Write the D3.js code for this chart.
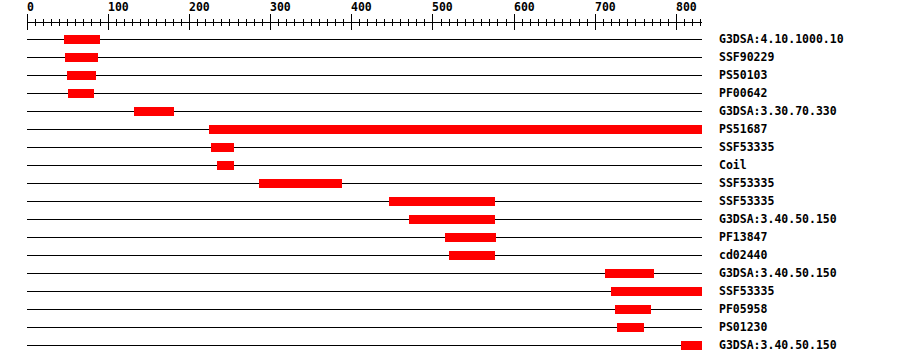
<!DOCTYPE html>
<html>
<head>
<meta charset="utf-8">
<script src="https://cdn.jsdelivr.net/npm/d3@7"></script>
<style>
  body { margin: 0; background: #fff; }
  text { font-family: "DejaVu Sans Mono", "Liberation Mono", monospace; font-weight: bold; }
</style>
</head>
<body>
<svg id="chart" width="900" height="364"></svg>
<script>
// protein length and the features found on it
const seqLength = 832;
const labels = ["G3DSA:4.10.1000.10", "SSF90229", "PS50103", "PF00642", "G3DSA:3.30.70.330",
    "PS51687", "SSF53335", "Coil", "SSF53335", "SSF53335", "G3DSA:3.40.50.150", "PF13847",
    "cd02440", "G3DSA:3.40.50.150", "SSF53335", "PF05958", "PS01230", "G3DSA:3.40.50.150"];
const starts = [46, 48, 50, 51, 133, 225, 227, 235, 286, 447, 471, 515, 521, 713, 720, 725, 727, 806];
const ends = [90, 88, 85, 83, 182, 832, 255, 256, 389, 577, 577, 578, 577, 773, 832, 769, 760, 832];
const tickMajor = [0, 100, 200, 300, 400, 500, 600, 700, 800];

const features = labels.map((d, i) => ({ id: i, label: d, start: starts[i], end: ends[i] }));

const svg = d3.select('#chart');
const x = d3.scaleLinear().domain([0, seqLength]).range([26.5, 702]);
const y = d3.scaleBand().domain(features.map(d => d.id)).range([30, 354]);

// ruler on top
const axisY = 22.5;
const ruler = svg.append("g").attr("shape-rendering", "crispEdges");
ruler.append("line")
    .attr("x1", x(0)).attr("x2", x(seqLength))
    .attr("y1", axisY).attr("y2", axisY)
    .attr("stroke", "#000");

const minor = d3.range(0, seqLength + 1, 10).filter(v => v % 100 !== 0);
ruler.selectAll(".minor").data(minor).enter().append("line")
    .attr("x1", d => Math.round(x(d)) + 0.5).attr("x2", d => Math.round(x(d)) + 0.5)
    .attr("y1", axisY - 3.5).attr("y2", axisY + 3.5)
    .attr("stroke", "#000");

ruler.selectAll(".major").data(tickMajor).enter().append("line")
    .attr("x1", d => Math.round(x(d)) + 0.5).attr("x2", d => Math.round(x(d)) + 0.5)
    .attr("y1", axisY - 9).attr("y2", axisY + 7)
    .attr("stroke", "#000");

svg.selectAll(".tickLabel").data(tickMajor).enter().append("text")
    .attr("x", d => Math.round(x(d)))
    .attr("y", 11)
    .attr("font-size", "11.5px")
    .text(d => d);

// one row per feature
const rows = svg.selectAll(".row").data(features).enter().append("g")
    .attr("class", "row")
    .attr("transform", d => `translate(0,${Math.round(y(d.id) + y.bandwidth() / 2)})`);

rows.append("line")
    .attr("x1", x(0)).attr("x2", x(seqLength))
    .attr("y1", 0.5).attr("y2", 0.5)
    .attr("stroke", "#000")
    .attr("shape-rendering", "crispEdges");

rows.append("rect")
    .attr("x", d => Math.round(x(d.start)))
    .attr("width", d => Math.round(x(d.end)) - Math.round(x(d.start)))
    .attr("y", -4)
    .attr("height", 9)
    .attr("fill", "#ff0000")
    .attr("shape-rendering", "crispEdges");

rows.append("text")
    .attr("x", 719)
    .attr("y", 4)
    .attr("font-size", "11.5px")
    .text(d => d.label);
</script>
</body>
</html>
